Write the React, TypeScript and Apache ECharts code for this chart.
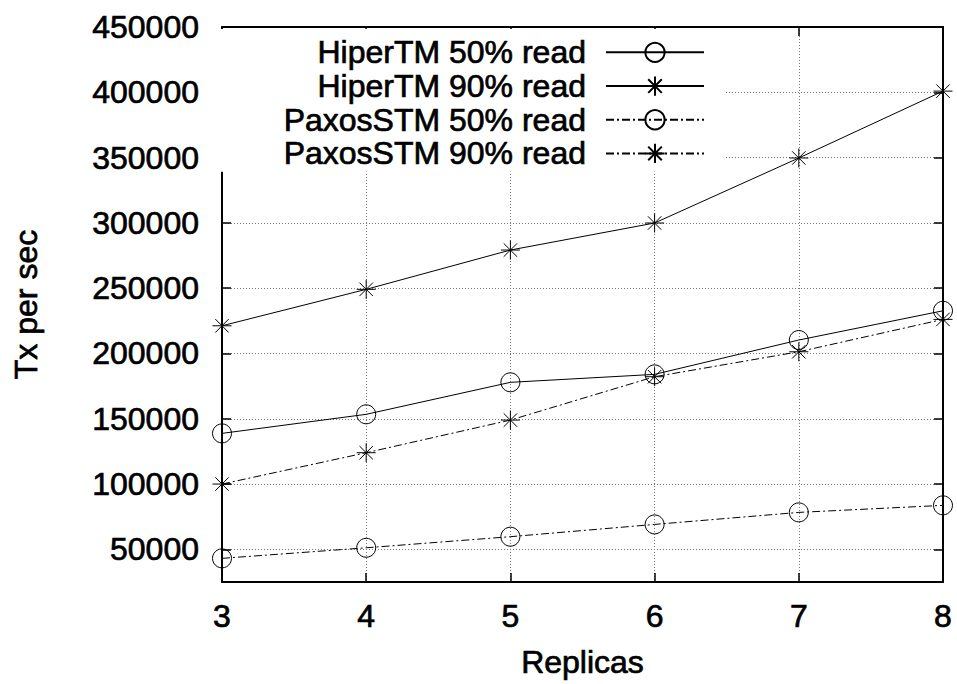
import React, { useEffect, useRef } from 'react';
import * as echarts from 'echarts';

const replicas = [3, 4, 5, 6, 7, 8];
const hiperTM50 = [138800, 153400, 177900, 184000, 210300, 232700];
const hiperTM90 = [221200, 249100, 279200, 299900, 349700, 400900];
const paxosSTM50 = [43100, 51200, 59700, 69100, 78300, 83700];
const paxosSTM90 = [100000, 124000, 149000, 182200, 201300, 226100];
const yTickValues = [50000, 100000, 150000, 200000, 250000, 300000, 350000, 400000, 450000];
const seriesNames = ['HiperTM 50% read', 'HiperTM 90% read', 'PaxosSTM 50% read', 'PaxosSTM 90% read'];

const FONT = "'Liberation Sans', Arial, Helvetica, sans-serif";
const STAR = 'path://M10,0L10,20M0,10L20,10M2.93,2.93L17.07,17.07M2.93,17.07L17.07,2.93';

export default function App() {
  const ref = useRef<HTMLDivElement>(null);
  useEffect(() => {
    if (!ref.current) return;
    const chart = echarts.init(ref.current, null, { renderer: 'svg' });
    const mk = (name: string, vals: number[], symbol: string, dashed: boolean) => ({
      name,
      type: 'line',
      data: replicas.map((x, i) => [x, vals[i]]),
      symbol,
      symbolSize: 19,
      itemStyle: { color: 'transparent', borderColor: '#000', borderWidth: 1 },
      lineStyle: { color: '#000', width: 1, type: dashed ? [8, 3, 2, 3] : 'solid' },
      emphasis: { disabled: true },
      silent: true,
      z: 3,
    });
    const axisLine = { show: true, onZero: false, lineStyle: { color: '#000', width: 2 } };
    const tick = { show: true, inside: true, length: 9, lineStyle: { color: '#000', width: 1.5 } };
    const split = { show: true, lineStyle: { color: '#777', width: 1, type: [1, 2] } };
    const labelStyle = {
      fontSize: 32, color: '#000', fontFamily: FONT,
      textBorderColor: '#000', textBorderWidth: 0.7,
    };
    chart.setOption({
      animation: false,
      backgroundColor: '#fff',
      grid: { left: 222, right: 14, top: 27, bottom: 102, show: false },
      legend: {
        data: seriesNames,
        orient: 'vertical',
        align: 'right',
        right: 232,
        top: 29,
        padding: [7, 20, 2, 82],
        backgroundColor: '#fff',
        itemWidth: 98,
        itemHeight: 24,
        itemGap: 1,
        selectedMode: false,
        textStyle: { ...labelStyle, padding: [0, 15, 0, 0] },
        z: 5,
      },
      xAxis: [
        {
          type: 'value', min: 3, max: 8, interval: 1, position: 'bottom',
          axisLine, axisTick: tick, splitLine: split,
          axisLabel: { ...labelStyle, margin: 18 },
          name: 'Replicas', nameLocation: 'middle', nameGap: 64,
          nameTextStyle: labelStyle,
        },
        {
          type: 'value', min: 3, max: 8, interval: 1, position: 'top',
          axisLine, axisTick: tick, splitLine: { show: false }, axisLabel: { show: false },
        },
      ],
      yAxis: [
        {
          type: 'value', min: 25000, max: 450000, position: 'left',
          axisLine,
          axisTick: { ...tick, customValues: yTickValues },
          splitLine: split,
          axisLabel: {
            ...labelStyle, margin: 23, customValues: yTickValues,
            formatter: (v: number) => String(v),
          },
          name: 'Tx per sec', nameLocation: 'middle', nameGap: 180, nameRotate: 90,
          nameTextStyle: labelStyle,
        },
        {
          type: 'value', min: 25000, max: 450000, position: 'right',
          axisLine,
          axisTick: { ...tick, customValues: yTickValues },
          splitLine: { show: false },
          axisLabel: { show: false, customValues: yTickValues },
        },
      ],
      series: [
        mk(seriesNames[0], hiperTM50, 'circle', false),
        mk(seriesNames[1], hiperTM90, STAR, false),
        mk(seriesNames[2], paxosSTM50, 'circle', true),
        mk(seriesNames[3], paxosSTM90, STAR, true),
      ],
    });
    return () => chart.dispose();
  }, []);
  return (
    <div
      ref={ref}
      style={{ position: 'fixed', left: 0, top: 0, width: 957, height: 684, background: '#fff' }}
    />
  );
}
